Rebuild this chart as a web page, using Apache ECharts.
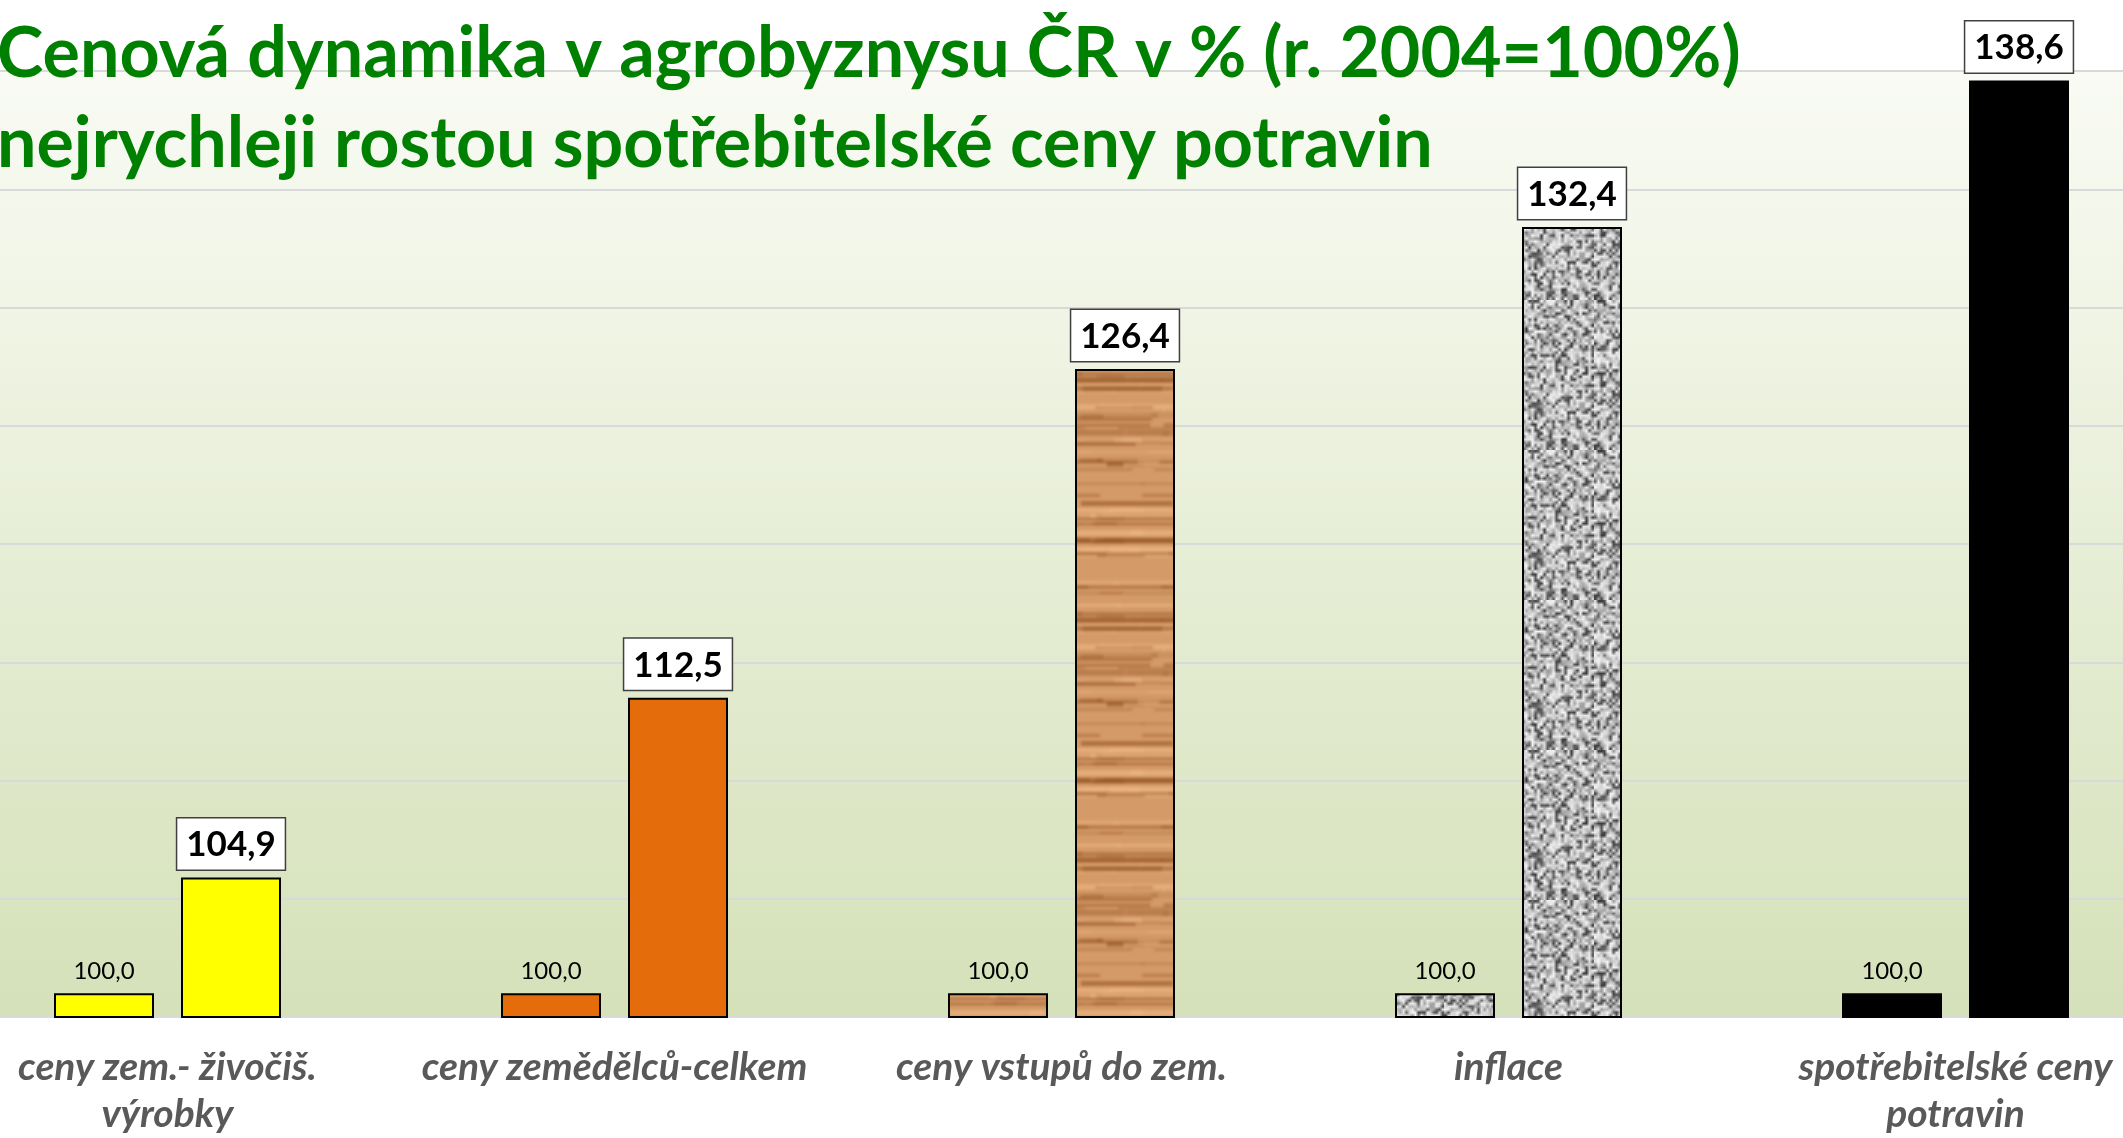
<!DOCTYPE html>
<html>
<head>
<meta charset="utf-8">
<script src="https://cdn.jsdelivr.net/npm/echarts@6/dist/echarts.min.js"></script>
<style>
  html, body { margin: 0; padding: 0; background: #fff; overflow: hidden; }
  /* graf je sirsi nez okno - krajni kategorie jsou oriznute jako v originale */
  #chart { width: 2235px; height: 1138px; margin-left: -56px; }
</style>
</head>
<body>
<div id="chart"></div>
<script>
// kategorie a hodnoty (r. 2004 = 100 %)
var categories = [
  'ceny zem.- živočiš.\nvýrobky',
  'ceny zemědělců-celkem',
  'ceny vstupů do zem.',
  'inflace',
  'spotřebitelské ceny\npotravin'
];
var base2004 = [100.0, 100.0, 100.0, 100.0, 100.0];
var current = [104.9, 112.5, 126.4, 132.4, 138.6];

var titleLines = [
  'Cenová dynamika v agrobyznysu ČR v % (r. 2004=100%)',
  'nejrychleji rostou spotřebitelské ceny potravin'
];

// jednoduchy generator pro texturu (deterministicky)
function rng(seed) {
  return function () {
    seed |= 0; seed = seed + 0x6D2B79F5 | 0;
    var t = Math.imul(seed ^ seed >>> 15, 1 | seed);
    t = t + Math.imul(t ^ t >>> 7, 61 | t) ^ t;
    return ((t ^ t >>> 14) >>> 0) / 4294967296;
  };
}

// textura drevo
function woodPattern() {
  var W = 100, H = 240;
  var src = document.createElement('canvas');
  src.width = W; src.height = H;
  var g = src.getContext('2d');
  var r = rng(7);
  g.fillStyle = '#d49b68';
  g.fillRect(0, 0, W, H);
  for (var i = 0; i < 60; i++) {
    var y = r() * H;
    var h = 1.5 + r() * 4;
    var x0 = r() * W;
    var w = 50 + r() * 100;
    var dark = r() < 0.55;
    g.fillStyle = dark ? 'rgba(150,85,38,' + (0.25 + r() * 0.4) + ')'
                       : 'rgba(236,182,132,' + (0.3 + r() * 0.4) + ')';
    // kresli i posunute kopie, aby dlazdice navazovala
    for (var k = -1; k <= 1; k++) g.fillRect(x0 + k * W, y, w, h);
  }
  // poskladat 3x3 dlazdice a az pak rozmazat, aby nebyly videt svy
  var tiled = document.createElement('canvas');
  tiled.width = W * 3; tiled.height = H * 3;
  var gt = tiled.getContext('2d');
  for (var a = 0; a < 3; a++) for (var b = 0; b < 3; b++) gt.drawImage(src, a * W, b * H);
  var blurred = document.createElement('canvas');
  blurred.width = W * 3; blurred.height = H * 3;
  var gb = blurred.getContext('2d');
  gb.filter = 'blur(1.6px)';
  gb.drawImage(tiled, 0, 0);
  var c = document.createElement('canvas');
  c.width = W; c.height = H;
  c.getContext('2d').drawImage(blurred, W, H, W, H, 0, 0, W, H);
  return c;
}

// textura zula
function granitePattern() {
  var small = document.createElement('canvas');
  small.width = 50; small.height = 50;
  var g = small.getContext('2d');
  var r = rng(13);
  var img = g.createImageData(50, 50);
  for (var i = 0; i < 2500; i++) {
    var v = r();
    var gray;
    if (v < 0.25) gray = 60 + r() * 60;
    else if (v < 0.55) gray = 150 + r() * 40;
    else gray = 200 + r() * 45;
    img.data[i * 4] = gray;
    img.data[i * 4 + 1] = gray;
    img.data[i * 4 + 2] = gray;
    img.data[i * 4 + 3] = 255;
  }
  g.putImageData(img, 0, 0);
  var c = document.createElement('canvas');
  c.width = 150; c.height = 150;
  var g2 = c.getContext('2d');
  g2.imageSmoothingEnabled = true;
  g2.drawImage(small, 0, 0, 150, 150);
  return c;
}

window.onload = function () {
  var wood = { image: woodPattern(), repeat: 'repeat' };
  var granite = { image: granitePattern(), repeat: 'repeat' };
  var fills = ['#ffff00', '#e46c0a', wood, granite, '#000000'];

  function fmt(p) { return p.value.toFixed(1).replace('.', ','); }

  function items(arr) {
    return arr.map(function (v, i) {
      return { value: v, itemStyle: { color: fills[i] } };
    });
  }

  var option = {
    backgroundColor: '#ffffff',
    animation: false,
    title: {
      text: titleLines.join('\n'),
      left: 53,
      top: 9,
      padding: 0,
      textStyle: {
        fontFamily: 'Lato',
        fontWeight: 'bold',
        fontSize: 70,
        lineHeight: 90,
        color: '#008000'
      }
    },
    grid: {
      left: 0,
      right: 0,
      top: 71,
      bottom: 119,
      show: true,
      borderWidth: 0,
      backgroundColor: new echarts.graphic.LinearGradient(0, 0, 0, 1, [
        { offset: 0, color: '#f9fbf4' },
        { offset: 1, color: '#d5e1b9' }
      ]),
      containLabel: false
    },
    xAxis: {
      type: 'category',
      data: categories,
      axisTick: { show: false },
      axisLine: { lineStyle: { color: '#d9d9d9', width: 2 } },
      axisLabel: {
        interval: 0,
        margin: 27,
        fontFamily: 'Lato',
        fontStyle: 'italic',
        fontWeight: 'bold',
        fontSize: 39,
        lineHeight: 47,
        color: '#595959'
      }
    },
    yAxis: [
      { type: 'value', min: 99, max: 139, show: false },
      // jen pomocna osa pro mrizku (99, 104, 109, ...)
      {
        type: 'value', min: 0, max: 40, interval: 5,
        axisLabel: { show: false },
        axisLine: { show: false },
        axisTick: { show: false },
        splitLine: { lineStyle: { color: '#d9d9d9', width: 2 } }
      }
    ],
    series: [
      {
        name: '2004',
        type: 'bar',
        yAxisIndex: 0,
        barWidth: 100,
        barGap: '27%',
        data: items(base2004),
        itemStyle: { borderColor: '#000', borderWidth: 2 },
        label: {
          show: true,
          position: 'top',
          distance: 10,
          formatter: fmt,
          fontFamily: 'Lato',
          fontSize: 24,
          color: '#000'
        }
      },
      {
        name: 'aktualni',
        type: 'bar',
        yAxisIndex: 0,
        barWidth: 100,
        data: items(current),
        itemStyle: { borderColor: '#000', borderWidth: 2 },
        label: {
          show: true,
          position: 'top',
          distance: 8,
          formatter: fmt,
          fontFamily: 'Lato',
          fontWeight: 'bold',
          fontSize: 35,
          color: '#000',
          backgroundColor: '#ffffff',
          borderColor: '#404040',
          borderWidth: 1.5,
          padding: [9, 9, 7, 9]
        }
      }
    ]
  };

  var myChart = echarts.init(document.getElementById('chart'));
  myChart.setOption(option);
};
</script>
</body>
</html>
